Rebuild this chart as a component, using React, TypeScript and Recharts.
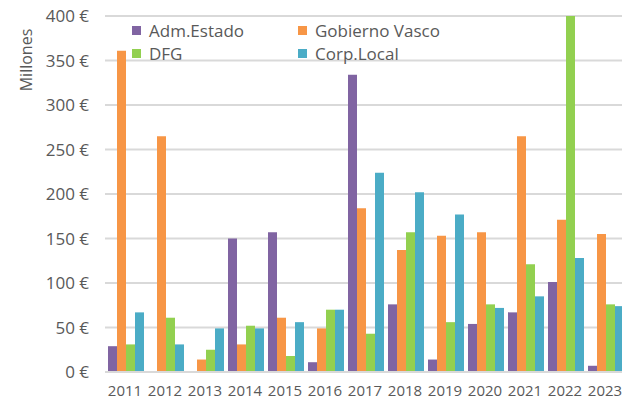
import { BarChart, Bar, XAxis, YAxis, CartesianGrid } from 'recharts';

const years = ['2011', '2012', '2013', '2014', '2015', '2016', '2017', '2018', '2019', '2020', '2021', '2022', '2023'];
const admEstado = [29, 1, 1, 150, 157, 11, 334, 76, 14, 54, 67, 101, 7];
const gobiernoVasco = [361, 265, 14, 31, 61, 49, 184, 137, 153, 157, 265, 171, 155];
const dfg = [31, 61, 25, 52, 18, 70, 43, 157, 56, 76, 121, 400, 76];
const corpLocal = [67, 31, 49, 49, 56, 70, 224, 202, 177, 72, 85, 128, 74];
const yTicks = [0, 50, 100, 150, 200, 250, 300, 350, 400];

const SERIES = [
  { key: 'adm', name: 'Adm.Estado', color: '#8064a2' },
  { key: 'gv', name: 'Gobierno Vasco', color: '#f79646' },
  { key: 'dfg', name: 'DFG', color: '#92d050' },
  { key: 'corp', name: 'Corp.Local', color: '#4bacc6' },
];

const data = years.map((year, i) => ({
  year,
  adm: admEstado[i],
  gv: gobiernoVasco[i],
  dfg: dfg[i],
  corp: corpLocal[i],
}));

const FONT = '"Open Sans", sans-serif';
const TEXT = '#595959';

// legend sits over the plot area, two columns like the original
function LegendBox() {
  const cols = [
    [SERIES[0], SERIES[2]],
    [SERIES[1], SERIES[3]],
  ];
  return (
    <div
      style={{
        position: 'absolute',
        top: 19,
        left: 132,
        display: 'flex',
        fontFamily: FONT,
        fontSize: 17,
        color: TEXT,
        lineHeight: '23px',
      }}
    >
      {cols.map((col, ci) => (
        <div key={ci} style={{ width: ci === 0 ? 166 : 150 }}>
          {col.map((s) => (
            <div key={s.key} style={{ display: 'flex', alignItems: 'center', height: 23 }}>
              <span style={{ width: 9, height: 9, background: s.color, marginRight: 8, display: 'inline-block' }} />
              <span>{s.name}</span>
            </div>
          ))}
        </div>
      ))}
    </div>
  );
}

export default function App() {
  return (
    <div style={{ position: 'absolute', left: 0, top: 0, width: 622, height: 401, overflow: 'hidden', background: '#fff' }}>
      <BarChart
        width={626}
        height={401}
        data={data}
        margin={{ top: 16, right: 1, bottom: 0, left: 45 }}
        barCategoryGap="7.5%"
        barGap={0}
      >
        <CartesianGrid vertical={false} stroke="#d9d9d9" strokeWidth={2} />
        <XAxis
          dataKey="year"
          height={29}
          tickLine={false}
          tickSize={0}
          tickMargin={13}
          axisLine={{ stroke: '#d9d9d9', strokeWidth: 2 }}
          tick={{ fill: TEXT, fontFamily: FONT, fontSize: 15 }}
          interval={0}
        />
        <YAxis
          width={60}
          domain={[0, 400]}
          ticks={yTicks}
          tickLine={false}
          axisLine={false}
          tickSize={0}
          tickMargin={16}
          tickFormatter={(v: number) => `${v} €`}
          tick={{ fill: TEXT, fontFamily: FONT, fontSize: 17 }}
          label={(props: any) => {
            const vb = props.viewBox || {};
            return (
              <text
                x={0}
                y={0}
                transform={`translate(${(vb.x ?? 45) - 19}, 60) rotate(-90)`}
                textAnchor="middle"
                dominantBaseline="central"
                fill={TEXT}
                fontFamily={FONT}
                fontSize={16}
              >
                Millones
              </text>
            );
          }}
        />
        {SERIES.map((s) => (
          <Bar key={s.key} dataKey={s.key} name={s.name} fill={s.color} isAnimationActive={false} />
        ))}
      </BarChart>
      <LegendBox />
    </div>
  );
}
